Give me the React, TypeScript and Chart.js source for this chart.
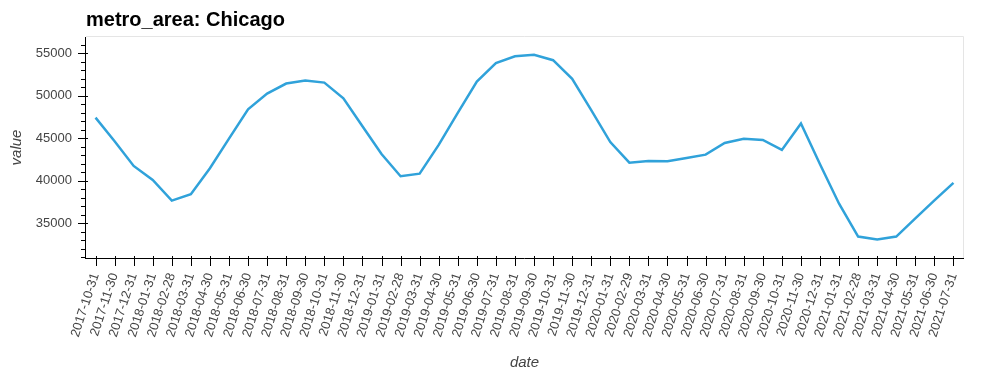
import React, { useEffect, useRef } from "react";
import { Chart, registerables } from "chart.js";

Chart.register(...registerables);

const dates: string[] = [
  "2017-10-31", "2017-11-30", "2017-12-31",
  "2018-01-31", "2018-02-28", "2018-03-31", "2018-04-30", "2018-05-31", "2018-06-30",
  "2018-07-31", "2018-08-31", "2018-09-30", "2018-10-31", "2018-11-30", "2018-12-31",
  "2019-01-31", "2019-02-28", "2019-03-31", "2019-04-30", "2019-05-31", "2019-06-30",
  "2019-07-31", "2019-08-31", "2019-09-30", "2019-10-31", "2019-11-30", "2019-12-31",
  "2020-01-31", "2020-02-29", "2020-03-31", "2020-04-30", "2020-05-31", "2020-06-30",
  "2020-07-31", "2020-08-31", "2020-09-30", "2020-10-31", "2020-11-30", "2020-12-31",
  "2021-01-31", "2021-02-28", "2021-03-31", "2021-04-30", "2021-05-31", "2021-06-30",
  "2021-07-31",
];

const values: number[] = [
  47420, 44650, 41740,
  40090, 37660, 38410, 41470, 44960, 48410,
  50250, 51430, 51780, 51540, 49700, 46400,
  43150, 40530, 40840, 44210, 47980, 51660,
  53820, 54640, 54800, 54170, 51980, 48300,
  44550, 42130, 42330, 42290, 42680, 43070,
  44440, 44940, 44790, 43620, 46730, 41950,
  37300, 33440, 33090, 33440, 35580, 37690,
  39760,
];

const yMajorTicks: number[] = [35000, 40000, 45000, 50000, 55000];
const yMinorTicks: number[] = [
  31000, 32000, 33000, 34000, 36000, 37000, 38000, 39000, 41000, 42000, 43000, 44000,
  46000, 47000, 48000, 49000, 51000, 52000, 53000, 54000, 56000,
];

const TITLE = "metro_area: Chicago";
const FONT = '"Liberation Sans", Arial, Helvetica, sans-serif';

const axesPlugin = {
  id: "bokehAxes",
  afterDraw(chart: any) {
    const { ctx, chartArea, scales } = chart;
    const { left, right, top, bottom } = chartArea;
    const x = scales.x;
    const y = scales.y;
    ctx.save();
    // outline
    ctx.strokeStyle = "#e5e5e5";
    ctx.lineWidth = 1;
    ctx.beginPath();
    ctx.moveTo(left, top - 0.5);
    ctx.lineTo(right + 0.5, top - 0.5);
    ctx.lineTo(right + 0.5, bottom);
    ctx.stroke();
    // axes lines
    ctx.strokeStyle = "#000";
    ctx.beginPath();
    ctx.moveTo(left - 0.5, top);
    ctx.lineTo(left - 0.5, bottom + 1);
    ctx.moveTo(left - 1, bottom + 0.5);
    ctx.lineTo(right + 1, bottom + 0.5);
    ctx.stroke();
    // y major ticks
    ctx.beginPath();
    yMajorTicks.forEach((v) => {
      const py = Math.round(y.getPixelForValue(v)) + 0.5;
      ctx.moveTo(left - 8, py);
      ctx.lineTo(left + 2, py);
    });
    yMinorTicks.forEach((v) => {
      const py = Math.round(y.getPixelForValue(v)) + 0.5;
      ctx.moveTo(left - 5, py);
      ctx.lineTo(left - 0.5, py);
    });
    // x ticks
    dates.forEach((_, i) => {
      const px = Math.round(x.getPixelForValue(i)) + 0.5;
      ctx.moveTo(px, bottom - 2);
      ctx.lineTo(px, bottom + 8);
    });
    ctx.stroke();
    // title
    ctx.fillStyle = "#000";
    ctx.font = `bold 20px ${FONT}`;
    ctx.textAlign = "left";
    ctx.textBaseline = "alphabetic";
    ctx.fillText(TITLE, left, 26);
    ctx.restore();
  },
};

export default function App() {
  const canvasRef = useRef<HTMLCanvasElement>(null);

  useEffect(() => {
    document.body.style.margin = "0";
    const canvas = canvasRef.current;
    if (!canvas) return;
    Chart.defaults.font.family = FONT;
    const chart = new Chart(canvas, {
      type: "line",
      data: {
        labels: dates,
        datasets: [
          {
            label: "value",
            data: values,
            borderColor: "#30a2da",
            backgroundColor: "#30a2da",
            borderWidth: 2.5,
            pointRadius: 0,
            tension: 0,
            fill: false,
          },
        ],
      },
      options: {
        animation: false,
        responsive: false,
        devicePixelRatio: 1,
        layout: { padding: { top: 37, right: 37, bottom: 0, left: 0 } },
        plugins: {
          legend: { display: false },
          title: { display: false },
          tooltip: { enabled: false },
        },
        scales: {
          x: {
            type: "category",
            offset: true,
            grid: { display: false, drawTicks: false },
            border: { display: false },
            ticks: {
              autoSkip: false,
              maxRotation: 72,
              minRotation: 72,
              padding: 13,
              color: "#444444",
              font: { size: 13 },
            },
            title: {
              display: true,
              text: "date",
              color: "#444444",
              font: { size: 15, style: "italic" },
              padding: { top: 0, bottom: 3 },
            },
            afterFit(scale: any) {
              scale.height = 117;
            },
          },
          y: {
            min: 30920,
            max: 56900,
            grid: { display: false, drawTicks: false },
            border: { display: false },
            afterBuildTicks(scale: any) {
              scale.ticks = yMajorTicks.map((v) => ({ value: v }));
            },
            ticks: {
              padding: 14,
              color: "#444444",
              font: { size: 13 },
              callback: (v: any) => String(v),
            },
            title: {
              display: true,
              text: "value",
              color: "#444444",
              font: { size: 15, style: "italic" },
              padding: { top: 8, bottom: 0 },
            },
            afterFit(scale: any) {
              scale.width = 86;
            },
          },
        },
      },
      plugins: [axesPlugin],
    });
    return () => chart.destroy();
  }, []);

  return (
    <div style={{ width: 1000, height: 375 }}>
      <canvas ref={canvasRef} width={1000} height={375} />
    </div>
  );
}
